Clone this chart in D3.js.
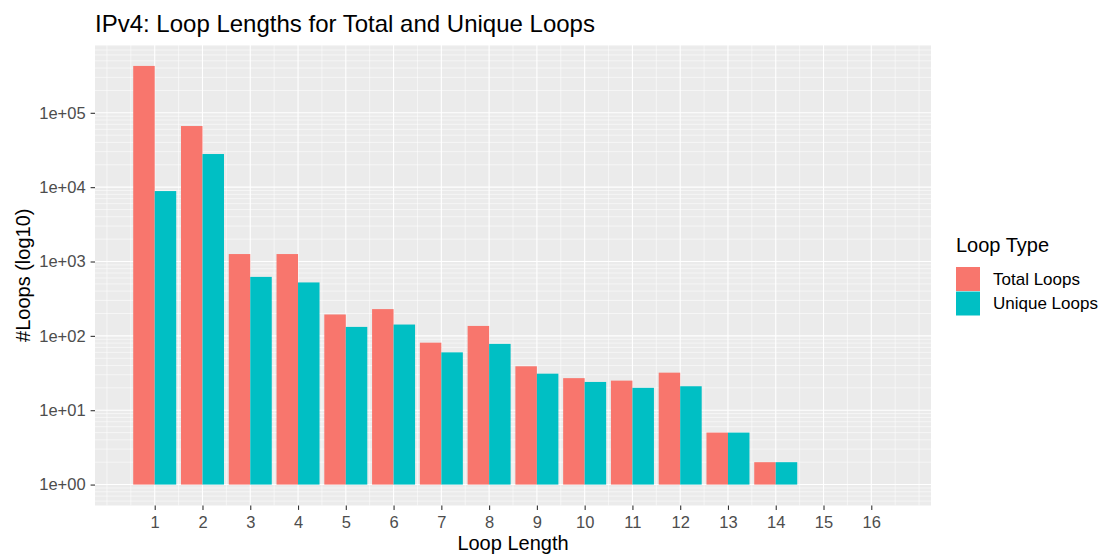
<!DOCTYPE html>
<html>
<head>
<meta charset="utf-8">
<script src="https://cdn.jsdelivr.net/npm/d3@7"></script>
<style>
  html, body { margin: 0; padding: 0; background: #ffffff; }
  svg { display: block; font-family: "Liberation Sans", Arial, Helvetica, sans-serif; }
</style>
</head>
<body>
<svg id="chart" width="1104" height="556"></svg>
<script>
// ---- data ----
const loopLengths = [1, 2, 3, 4, 5, 6, 7, 8, 9, 10, 11, 12, 13, 14];
const totalLoops  = [427000, 66400, 1260, 1260, 194, 229, 81, 136, 39, 27, 25, 32, 5, 2];
const uniqueLoops = [8860, 27900, 621, 523, 132, 142, 60, 78, 31, 24, 20, 21, 5, 2];
const seriesNames = ["Total Loops", "Unique Loops"];
const seriesColors = ["#F8766D", "#00BFC4"];
const xTicks = [1, 2, 3, 4, 5, 6, 7, 8, 9, 10, 11, 12, 13, 14, 15, 16];
const yTicks = [1, 10, 100, 1000, 10000, 100000];
const yTickLabels = ["1e+00", "1e+01", "1e+02", "1e+03", "1e+04", "1e+05"];

const svg = d3.select("#chart");
const panel = { left: 95, right: 931, top: 45, bottom: 505.5 };

// x: continuous, limits as in the reference
const x = d3.scaleLinear().domain([-0.25, 17.25]).range([panel.left, panel.right]);
// y: log10 with ggplot-style 5% expansion on log range
const lo = 0, hi = Math.log10(d3.max(totalLoops.concat(uniqueLoops)));
const pad = 0.05 * (hi - lo);
const y = d3.scaleLog().domain([Math.pow(10, lo - pad), Math.pow(10, hi + pad)]).range([panel.bottom, panel.top]);

// panel background
svg.append("rect")
  .attr("x", panel.left).attr("y", panel.top)
  .attr("width", panel.right - panel.left).attr("height", panel.bottom - panel.top)
  .attr("fill", "#EBEBEB");

const grid = svg.append("g");
// minor y grid: k * 10^d
const yMinor = [];
for (let d = -1; d <= 6; d++) for (let k = 2; k <= 9; k++) {
  const v = k * Math.pow(10, d);
  if (y(v) >= panel.top && y(v) <= panel.bottom) yMinor.push(v);
}
grid.selectAll("line.ymin").data(yMinor).join("line")
  .attr("x1", panel.left).attr("x2", panel.right)
  .attr("y1", d => y(d)).attr("y2", d => y(d))
  .attr("stroke", "#ffffff").attr("stroke-width", 0.55);
// minor x grid at halves
const xMinor = d3.range(0, 17.01, 0.5).filter(v => !xTicks.includes(v));
grid.selectAll("line.xmin").data(xMinor).join("line")
  .attr("y1", panel.top).attr("y2", panel.bottom)
  .attr("x1", d => x(d)).attr("x2", d => x(d))
  .attr("stroke", "#ffffff").attr("stroke-width", 0.55);
// major grid
grid.selectAll("line.ymaj").data(yTicks).join("line")
  .attr("x1", panel.left).attr("x2", panel.right)
  .attr("y1", d => y(d)).attr("y2", d => y(d))
  .attr("stroke", "#ffffff").attr("stroke-width", 1.1);
grid.selectAll("line.xmaj").data(xTicks).join("line")
  .attr("y1", panel.top).attr("y2", panel.bottom)
  .attr("x1", d => x(d)).attr("x2", d => x(d))
  .attr("stroke", "#ffffff").attr("stroke-width", 1.1);

// bars (dodge width 0.9)
const bw = 0.45;
const rows = loopLengths.map((L, i) => ({ L, vals: [totalLoops[i], uniqueLoops[i]] }));
const bars = svg.append("g");
rows.forEach(r => {
  r.vals.forEach((v, s) => {
    const x0 = r.L - 0.45 + s * bw;
    bars.append("rect")
      .attr("x", x(x0))
      .attr("width", x(x0 + bw) - x(x0))
      .attr("y", y(v))
      .attr("height", y(1) - y(v))
      .attr("fill", seriesColors[s]);
  });
});

// axes
const xAxis = d3.axisBottom(x).tickValues(xTicks).tickSize(4.4).tickPadding(3).tickFormat(d3.format("d"));
const gx = svg.append("g").attr("transform", `translate(0,${panel.bottom})`).call(xAxis);
const yAxis = d3.axisLeft(y).tickValues(yTicks).tickSize(4.4).tickPadding(5)
  .tickFormat((d, i) => yTickLabels[i]);
const gy = svg.append("g").attr("transform", `translate(${panel.left},0)`).call(yAxis);
[gx, gy].forEach(g => {
  g.select(".domain").remove();
  g.selectAll(".tick line").attr("stroke", "#333333").attr("stroke-width", 1.1);
  g.selectAll(".tick text").attr("fill", "#4D4D4D").attr("font-size", "16.5px")
    .attr("font-family", "'Liberation Sans', Arial, sans-serif");
});
gx.selectAll(".tick text").attr("dy", "0.9em");

// titles
svg.append("text").attr("x", 95).attr("y", 32)
  .attr("font-size", "24px").attr("fill", "#000000")
  .text("IPv4: Loop Lengths for Total and Unique Loops");
svg.append("text").attr("x", (panel.left + panel.right) / 2).attr("y", 550)
  .attr("text-anchor", "middle").attr("font-size", "20px").attr("fill", "#000000")
  .text("Loop Length");
svg.append("text")
  .attr("transform", `translate(30,${(panel.top + panel.bottom) / 2}) rotate(-90)`)
  .attr("text-anchor", "middle").attr("font-size", "20px").attr("fill", "#000000")
  .text("#Loops (log10)");

// legend
const lg = svg.append("g");
lg.append("text").attr("x", 956).attr("y", 252).attr("font-size", "20px").attr("fill", "#000")
  .text("Loop Type");
seriesNames.forEach((n, i) => {
  const ky = 267 + i * 24.5;
  lg.append("rect").attr("x", 956).attr("y", ky).attr("width", 24).attr("height", 24)
    .attr("fill", seriesColors[i]);
  lg.append("text").attr("x", 993).attr("y", ky + 12).attr("dy", "0.35em")
    .attr("font-size", "17px").attr("fill", "#000").text(n);
});
</script>
</body>
</html>
